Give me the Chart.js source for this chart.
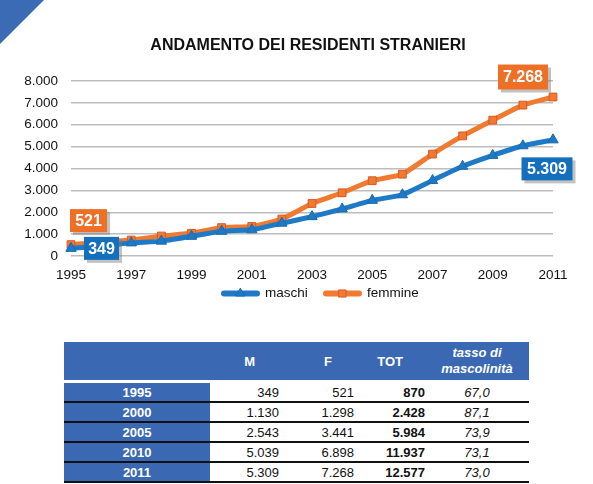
<!DOCTYPE html>
<html>
<head>
<meta charset="utf-8">
<script src="https://cdn.jsdelivr.net/npm/chart.js@4.4.1/dist/chart.umd.min.js"></script>
<style>
  html, body { margin: 0; padding: 0; background: #fff; }
  body { width: 593px; height: 484px; position: relative; overflow: hidden; font-family: "Liberation Sans", Arial, sans-serif; }
  #corner { position: absolute; left: 0; top: 0; width: 0; height: 0; border-top: 44px solid #3C6BB5; border-right: 44px solid transparent; z-index: 2; }
  #wrap { position: absolute; left: 0; top: 0; width: 593px; height: 320px; }
  #tbl { position: absolute; left: 64px; top: 342px; width: 465px; border-collapse: collapse; font-size: 13px; color: #111; }
  #tbl th { background: #3A68B2; color: #fff; font-weight: bold; height: 38px; padding: 0; }
  #tbl th.rate { font-style: italic; line-height: 16px; }
  #tbl tr.gap td { height: 3px; padding: 0; border: none; background: #fff; }
  #tbl td { height: 18px; padding: 0; border-bottom: 2px solid #111; }
  #tbl td.yr { background: #3A68B2; color: #fff; font-weight: bold; text-align: center; }
  #tbl td.num { text-align: right; }
  #tbl td.tot { text-align: right; font-weight: bold; }
  #tbl td.rt { text-align: center; font-style: italic; }
</style>
</head>
<body>
<div id="corner"></div>
<div id="wrap"><canvas id="c" width="593" height="320"></canvas></div>
<table id="tbl"></table>
<script>
const chartTitle = 'ANDAMENTO DEI RESIDENTI STRANIERI';
const years = ['1995','1996','1997','1998','1999','2000','2001','2002','2003','2004','2005','2006','2007','2008','2009','2010','2011'];
const maschi  = [349, 450, 600, 680, 900, 1130, 1200, 1500, 1800, 2150, 2543, 2800, 3450, 4100, 4600, 5039, 5309];
const femmine = [521, 620, 730, 913, 1040, 1298, 1350, 1690, 2400, 2890, 3441, 3740, 4660, 5490, 6210, 6898, 7268];
const yTicks = [0, 1000, 2000, 3000, 4000, 5000, 6000, 7000, 8000];

const tableYears = ['1995','2000','2005','2010','2011'];
const tableM     = [349, 1130, 2543, 5039, 5309];
const tableF     = [521, 1298, 3441, 6898, 7268];
const tableTot   = [870, 2428, 5984, 11937, 12577];
const tableRate  = ['67,0','87,1','73,9','73,1','73,0'];

const BLUE = '#1E7AC6', ORANGE = '#F07A30';
const BLUE_BOX = '#1470BD', ORANGE_BOX = '#EE7026';
const FONT = '"Liberation Sans", Arial, sans-serif';

function fmt(v) { return String(Math.round(v)).replace(/\B(?=(\d{3})+(?!\d))/g, '.'); }

// table
const tbl = document.getElementById('tbl');
let html = '<colgroup><col style="width:146px"><col style="width:69px"><col style="width:75px"><col style="width:71px"><col style="width:104px"></colgroup>';
html += '<tr><th></th><th style="text-align:right;padding-right:24px">M</th><th style="text-align:right;padding-right:22px">F</th><th style="text-align:right;padding-right:22px">TOT</th><th class="rate">tasso di<br>mascolinità</th></tr>';
html += '<tr class="gap"><td></td><td></td><td></td><td></td><td></td></tr>';
for (let i = 0; i < tableYears.length; i++) {
  html += '<tr><td class="yr">' + tableYears[i] + '</td><td class="num">' + fmt(tableM[i]) + '</td><td class="num">' + fmt(tableF[i]) + '</td><td class="tot">' + fmt(tableTot[i]) + '</td><td class="rt">' + tableRate[i] + '</td></tr>';
}
tbl.innerHTML = html;

const titlePlugin = {
  id: 'titlePlugin',
  afterDraw(chart) {
    const ctx = chart.ctx;
    ctx.save();
    ctx.fillStyle = '#111';
    ctx.font = 'bold 16px ' + FONT;
    ctx.textAlign = 'center';
    ctx.textBaseline = 'middle';
    ctx.fillText(chartTitle, 308, 46);
    ctx.restore();
  }
};

const labelBoxes = {
  id: 'labelBoxes',
  afterDatasetsDraw(chart) {
    const ctx = chart.ctx;
    const specs = [
      { ds: 1, idx: 16, dx: -30, dy: -20, w: 50, h: 25, col: ORANGE_BOX },
      { ds: 0, idx: 16, dx: -6, dy: 29, w: 51, h: 23, col: BLUE_BOX },
      { ds: 1, idx: 0, dx: 17.5, dy: -24, w: 37, h: 23, col: ORANGE_BOX },
      { ds: 0, idx: 0, dx: 30.5, dy: 0, w: 35, h: 23, col: BLUE_BOX }
    ];
    ctx.save();
    for (const s of specs) {
      const pt = chart.getDatasetMeta(s.ds).data[s.idx];
      const cx = pt.x + s.dx, cy = pt.y + s.dy;
      const x = cx - s.w / 2, y = cy - s.h / 2;
      ctx.fillStyle = 'rgba(120,120,120,0.45)';
      ctx.fillRect(x + 3, y + 3, s.w, s.h);
      ctx.fillStyle = s.col;
      ctx.fillRect(x, y, s.w, s.h);
      ctx.fillStyle = '#fff';
      ctx.font = 'bold 16px ' + FONT;
      ctx.textAlign = 'center';
      ctx.textBaseline = 'middle';
      const v = chart.data.datasets[s.ds].data[s.idx];
      ctx.fillText(fmt(v), cx, cy + 1);
    }
    ctx.restore();
  }
};

const customLegend = {
  id: 'customLegend',
  afterDraw(chart) {
    const ctx = chart.ctx;
    const y = 293.5;
    const items = [
      { x: 221, text: 'maschi', ds: 0 },
      { x: 323, text: 'femmine', ds: 1 }
    ];
    ctx.save();
    for (const it of items) {
      const ds = chart.data.datasets[it.ds];
      ctx.strokeStyle = ds.borderColor;
      ctx.lineWidth = 6;
      ctx.lineCap = 'round';
      ctx.beginPath(); ctx.moveTo(it.x + 3, y); ctx.lineTo(it.x + 36, y); ctx.stroke();
      ctx.fillStyle = ds.pointBackgroundColor;
      ctx.strokeStyle = ds.pointBorderColor;
      ctx.lineWidth = 1;
      Chart.helpers.drawPoint(ctx, { pointStyle: ds.pointStyle, radius: 5, borderWidth: 1 }, it.x + 19.5, y);
      ctx.fillStyle = '#111';
      ctx.font = '13.5px ' + FONT;
      ctx.textAlign = 'left';
      ctx.textBaseline = 'middle';
      ctx.fillText(it.text, it.x + 44, y);
    }
    ctx.restore();
  }
};

new Chart(document.getElementById('c'), {
  type: 'line',
  data: {
    labels: years,
    datasets: [
      { label: 'maschi', data: maschi, borderColor: BLUE, backgroundColor: BLUE, borderWidth: 5,
        pointStyle: 'triangle', pointRadius: 6, pointBackgroundColor: BLUE, pointBorderColor: '#1A6AB0', pointBorderWidth: 1, tension: 0.15 },
      { label: 'femmine', data: femmine, borderColor: ORANGE, backgroundColor: ORANGE, borderWidth: 5,
        pointStyle: 'rect', pointRadius: 5.5, pointBackgroundColor: ORANGE, pointBorderColor: '#D9582A', pointBorderWidth: 1, tension: 0.15 }
    ]
  },
  options: {
    responsive: false,
    animation: false,
    devicePixelRatio: 1,
    layout: { padding: { left: 0, right: 40, top: 81, bottom: 24 } },
    plugins: {
      legend: { display: false },
      tooltip: { enabled: false },
      title: { display: false }
    },
    scales: {
      x: {
        offset: false,
        grid: { display: false, drawTicks: false },
        border: { display: false },
        ticks: {
          color: '#111', padding: 11, maxRotation: 0, autoSkip: false,
          font: { family: FONT, size: 13.5 },
          callback: function(v, i) { return i % 2 === 0 ? years[i] : ''; }
        },
        afterFit: s => { s.height = 40; }
      },
      y: {
        min: 0, max: 8000,
        afterBuildTicks: s => { s.ticks = yTicks.map(v => ({ value: v })); },
        grid: { color: '#BDBDBD', lineWidth: 1.5, drawTicks: false },
        border: { display: false },
        ticks: {
          color: '#111', padding: 13,
          font: { family: FONT, size: 13.5 },
          callback: v => fmt(v)
        },
        afterFit: s => { s.width = 71; }
      }
    }
  },
  plugins: [labelBoxes, customLegend, titlePlugin]
});
</script>
</body>
</html>
